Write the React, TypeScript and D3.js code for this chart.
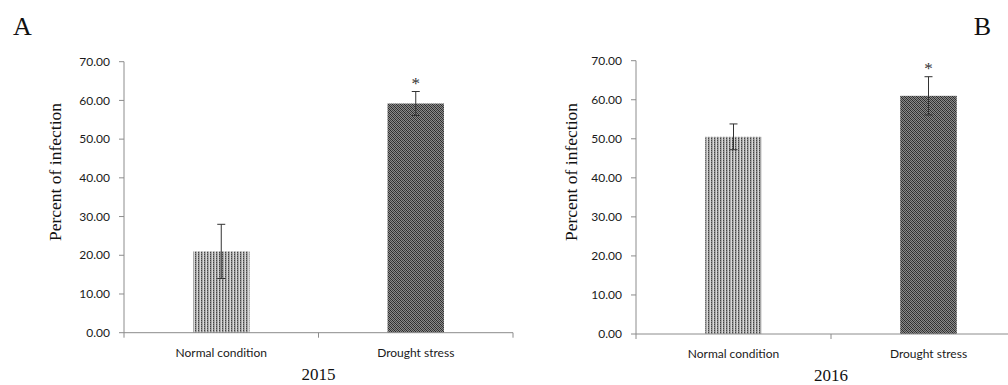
import React from "react";
import * as d3 from "d3";

const categories = ["Normal condition", "Drought stress"];
const values2015 = [21.0, 59.2];
const errors2015 = [7.0, 3.1];
const values2016 = [50.5, 61.0];
const errors2016 = [3.3, 4.9];
const significant = [false, true];
const yTicks = [0, 10, 20, 30, 40, 50, 60, 70];

type PanelProps = {
  letter: string;
  letterX: number;
  letterAnchor: string;
  year: string;
  values: number[];
  errors: number[];
  axisX: number;
  step: number;
  axisEnd: number;
  y0: number;
  y70: number;
  labelX: number;
  labelY: number;
  yearY: number;
};

function Panel(p: PanelProps) {
  const x = d3
    .scaleBand<string>()
    .domain(categories)
    .range([p.axisX, p.axisX + p.step * categories.length])
    .paddingInner(0.71)
    .paddingOuter(0.355);
  const y = d3.scaleLinear().domain([0, 70]).range([p.y0, p.y70]);
  const fmt = d3.format(".2f");
  const axisColor = "#8c8c8c";
  const tickXs = [p.axisX, p.axisX + p.step, p.axisX + 2 * p.step];
  return (
    <g>
      <text x={p.letterX} y={35} fontFamily="Liberation Serif" fontSize={26} fill="#111" textAnchor={p.letterAnchor}>
        {p.letter}
      </text>
      {/* y axis */}
      <line x1={p.axisX} x2={p.axisX} y1={y(70)} y2={y(0)} stroke={axisColor} strokeWidth={1} />
      {yTicks.map((t) => (
        <g key={t}>
          <line x1={p.axisX - 5} x2={p.axisX} y1={y(t)} y2={y(t)} stroke={axisColor} />
          <text x={p.axisX - 14} y={y(t)} dy="0.35em" textAnchor="end" fontFamily="Lato" fontSize={12} fill="#1a1a1a">
            {fmt(t)}
          </text>
        </g>
      ))}
      {/* bars */}
      {categories.map((c, i) => {
        const bx = x(c)!;
        const bw = x.bandwidth();
        const cx = bx + bw / 2;
        const v = p.values[i];
        const e = p.errors[i];
        return (
          <g key={c}>
            <rect x={bx} y={y(v)} width={bw} height={y(0) - y(v)} fill={i === 0 ? "url(#patNormal)" : "url(#patDrought)"} />
            <line x1={cx} x2={cx} y1={y(v + e)} y2={y(v - e)} stroke="#333" strokeWidth={1} />
            <line x1={cx - 4} x2={cx + 4} y1={y(v + e)} y2={y(v + e)} stroke="#333" strokeWidth={1} />
            <line x1={cx - 4} x2={cx + 4} y1={y(v - e)} y2={y(v - e)} stroke="#333" strokeWidth={1} />
            {significant[i] && (
              <text x={cx} y={y(v + e) - 3} textAnchor="middle" fontFamily="Liberation Serif" fontSize={17} fill="#333">
                *
              </text>
            )}
            <text x={cx} y={p.y0 + 24} textAnchor="middle" fontFamily="Lato" fontSize={12} fill="#1a1a1a">
              {c}
            </text>
          </g>
        );
      })}
      {/* x axis */}
      <line x1={p.axisX} x2={p.axisEnd} y1={p.y0} y2={p.y0} stroke={axisColor} strokeWidth={1} />
      {tickXs.map((tx, i) => (
        <line key={i} x1={tx} x2={tx} y1={p.y0} y2={p.y0 + 5} stroke={axisColor} />
      ))}
      <text x={p.axisX + p.step} y={p.yearY} textAnchor="middle" fontFamily="Liberation Serif" fontSize={17} fill="#111">
        {p.year}
      </text>
      <text
        transform={`translate(${p.labelX},${p.labelY}) rotate(-90)`}
        textAnchor="middle"
        fontFamily="Liberation Serif"
        fontSize={17.5}
        fill="#111"
      >
        Percent of infection
      </text>
    </g>
  );
}

export default function App() {
  return (
    <svg width={1008} height={385} style={{ position: "absolute", left: 0, top: 0, background: "#fff" }}>
      <defs>
        <pattern id="patNormal" width={3} height={2} patternUnits="userSpaceOnUse">
          <rect width={3} height={2} fill="#d8d8d8" />
          <rect x={0} y={0} width={1} height={1} fill="#444" />
          <rect x={0} y={1} width={1} height={1} fill="#888" />
          <rect x={1} y={0} width={1} height={2} fill="#a8a8a8" />
        </pattern>
        <pattern id="patDrought" width={4} height={4} patternUnits="userSpaceOnUse">
          <rect width={4} height={4} fill="#8a8a8a" />
          <rect x={0} y={0} width={1} height={1} fill="#2a2a2a" />
          <rect x={1} y={1} width={1} height={1} fill="#2a2a2a" />
          <rect x={2} y={2} width={1} height={1} fill="#2a2a2a" />
          <rect x={3} y={3} width={1} height={1} fill="#2a2a2a" />
          <rect x={2} y={0} width={1} height={1} fill="#444" />
          <rect x={3} y={1} width={1} height={1} fill="#444" />
          <rect x={0} y={2} width={1} height={1} fill="#444" />
          <rect x={1} y={3} width={1} height={1} fill="#444" />
        </pattern>
      </defs>
      <Panel
        letter="A"
        letterX={13}
        letterAnchor="start"
        year="2015"
        values={values2015}
        errors={errors2015}
        axisX={124}
        step={194.5}
        axisEnd={513}
        y0={332.7}
        y70={61.7}
        labelX={61}
        labelY={172}
        yearY={380}
      />
      <Panel
        letter="B"
        letterX={991}
        letterAnchor="end"
        year="2016"
        values={values2016}
        errors={errors2016}
        axisX={636}
        step={195}
        axisEnd={1008}
        y0={334}
        y70={60.7}
        labelX={577}
        labelY={172}
        yearY={380.5}
      />
    </svg>
  );
}
